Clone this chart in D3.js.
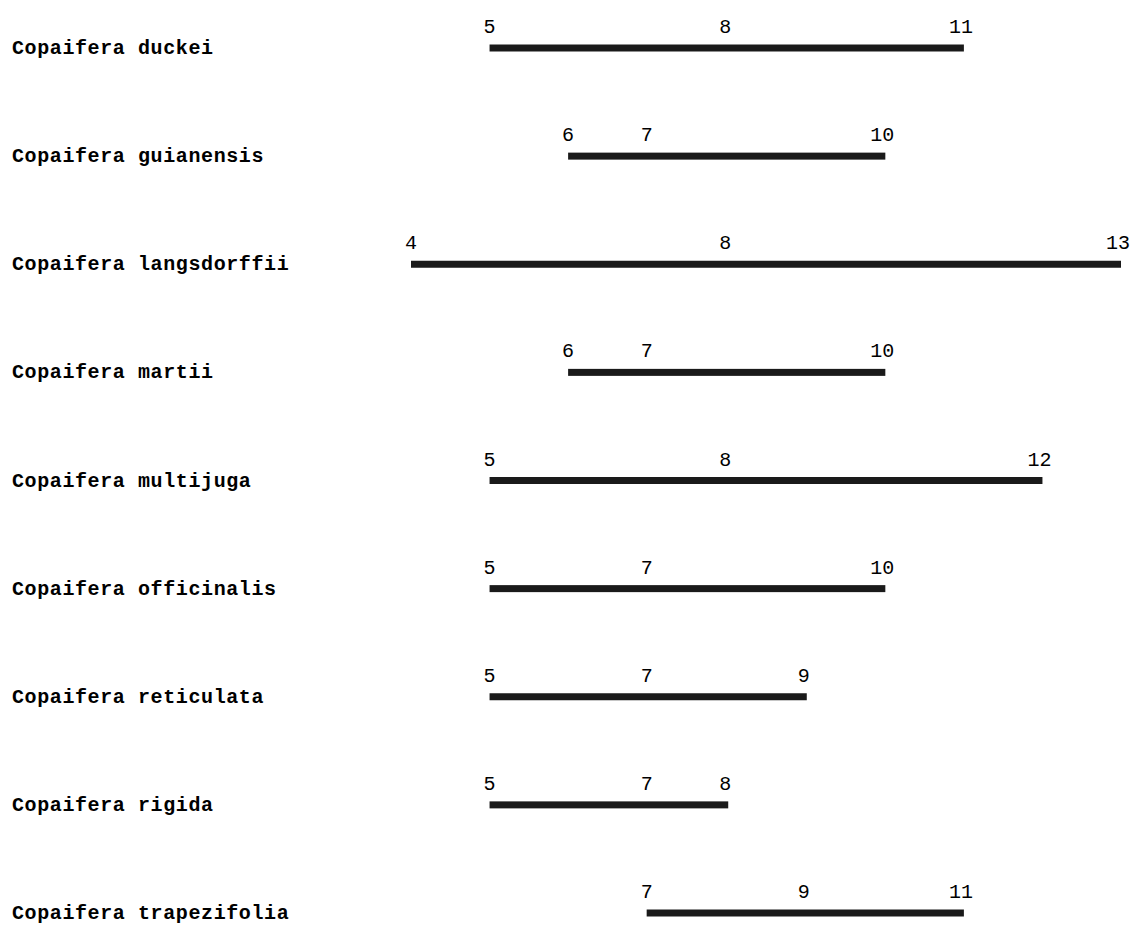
<!DOCTYPE html>
<html>
<head>
<meta charset="utf-8">
<script src="https://cdn.jsdelivr.net/npm/d3@7"></script>
<style>
  html, body { margin: 0; padding: 0; background: #fff; }
  svg { display: block; }
</style>
</head>
<body>
<svg id="chart" width="1131" height="926"></svg>
<script>
const species = ["Copaifera duckei", "Copaifera guianensis", "Copaifera langsdorffii", "Copaifera martii",
  "Copaifera multijuga", "Copaifera officinalis", "Copaifera reticulata", "Copaifera rigida", "Copaifera trapezifolia"];
const minValues = [5, 6, 4, 6, 5, 5, 5, 5, 7];
const midValues = [8, 7, 8, 7, 8, 7, 7, 7, 9];
const maxValues = [11, 10, 13, 10, 12, 10, 9, 8, 11];

const rows = species.map((s, i) => ({ name: s, min: minValues[i], mid: midValues[i], max: maxValues[i] }));

const svg = d3.select("#chart");
const x = d3.scaleLinear().domain([4, 13]).range([411, 1118]);
const y = d3.scalePoint().domain(species).range([48, 913]);

const g = svg.selectAll("g.row").data(rows).join("g").attr("class", "row")
  .attr("transform", d => `translate(0,${y(d.name)})`);

g.append("text")
  .attr("x", 12).attr("y", 6)
  .attr("font-family", "'Liberation Mono', 'DejaVu Sans Mono', monospace")
  .attr("font-weight", "bold")
  .attr("font-size", 20)
  .attr("letter-spacing", 0.6)
  .attr("fill", "#000")
  .text(d => d.name);

g.append("rect")
  .attr("x", d => x(d.min))
  .attr("y", -3.5)
  .attr("width", d => x(d.max) - x(d.min) + 3)
  .attr("height", 7)
  .attr("fill", "#1a1a1a");

g.selectAll("text.val").data(d => [d.min, d.mid, d.max]).join("text")
  .attr("class", "val")
  .attr("x", v => x(v))
  .attr("y", -15)
  .attr("text-anchor", "middle")
  .attr("font-family", "'Liberation Mono', 'DejaVu Sans Mono', monospace")
  .attr("font-size", 20)
  .attr("fill", "#000")
  .text(v => v);
</script>
</body>
</html>
